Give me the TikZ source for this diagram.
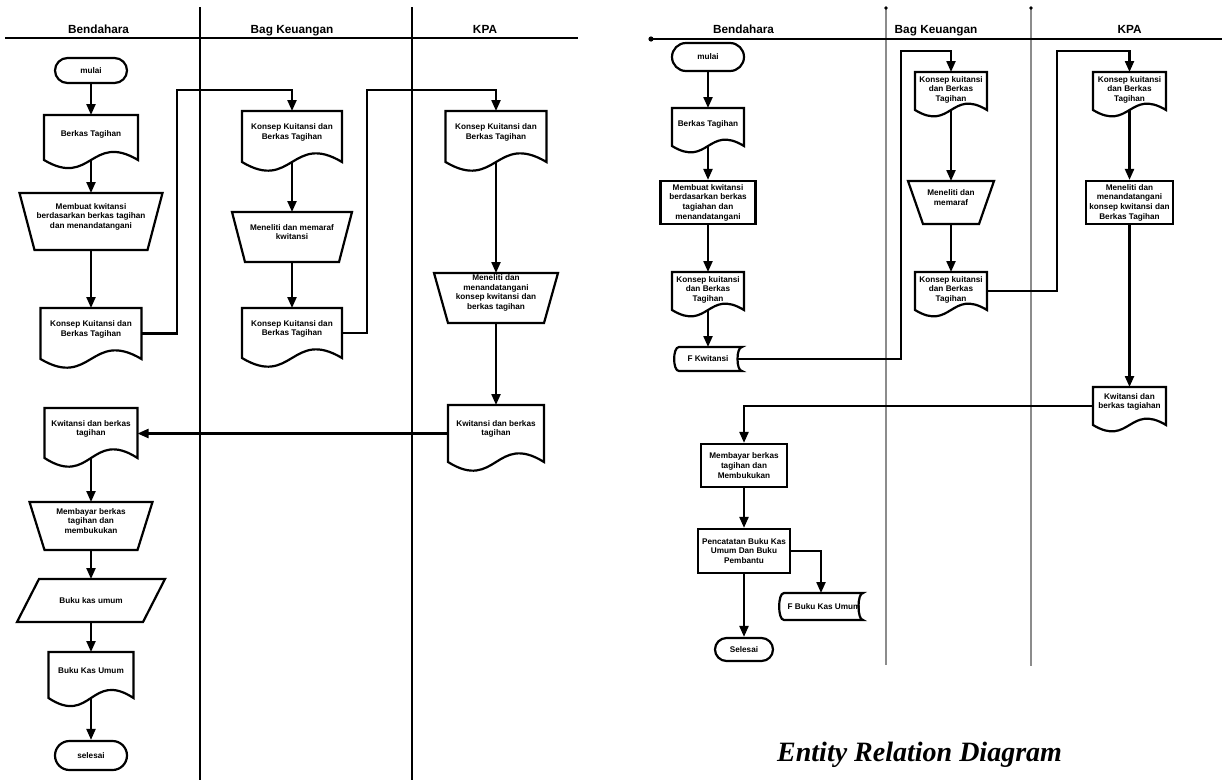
\documentclass[tikz,border=0pt]{standalone}
\usepackage{fontspec}
\setmainfont{Liberation Sans}
\newfontfamily\titlefont{Liberation Serif}
\usetikzlibrary{arrows.meta,calc,shapes.misc}
\definecolor{laneGray}{RGB}{140,140,140}
\tikzset{
  shp/.style={draw=black, line width=2.2pt, line join=miter},
  conn/.style={draw=black, line width=2.2pt},
  arr/.style={conn, -{Triangle[length=11pt,width=9pt]}},
  lbl/.style={font=\fontsize{8.2}{9.6}\selectfont\bfseries, align=center, inner sep=0pt},
  hdr/.style={font=\fontsize{11.8}{14}\selectfont\bfseries, inner sep=0pt, anchor=base},
  emptybox/.style={inner sep=0pt, outer sep=0pt},
  lane/.style={draw=black, line width=2.2pt},
  glane/.style={draw=laneGray, line width=1.4pt},
}
% name, cx, ytop, w, h, wave, text shift (up), text
\newcommand\docnode[8]{%
  \node[emptybox, minimum width=#4, minimum height=#5, anchor=north] (#1) at (#2,#3) {};
  \draw[shp] (#1.south west) -- (#1.north west) -- (#1.north east) -- (#1.south east)
    .. controls +(-0.5*#4,-#6) and +(0.5*#4,#6) .. (#1.south west) -- cycle;
  \node[lbl] (#1t) at ($(#1.center)+(0,-#7)$) {#8};
}
% name, cx, ytop, wtop, h, inset, text
\newcommand\trapnode[7]{%
  \node[emptybox, minimum width=#4, minimum height=#5, anchor=north] (#1) at (#2,#3) {};
  \draw[shp] (#1.north west) -- (#1.north east) -- ($(#1.south east)+(-#6,0)$)
    -- ($(#1.south west)+(#6,0)$) -- cycle;
  \node[lbl] (#1t) at ($(#1.center)+(0,-5)$) {#7};
}
% name, cx, ytop, w, h, slant, text
\newcommand\paranode[7]{%
  \node[emptybox, minimum width=#4, minimum height=#5, anchor=north] (#1) at (#2,#3) {};
  \draw[shp] ($(#1.north west)+(#6,0)$) -- (#1.north east) -- ($(#1.south east)+(-#6,0)$)
    -- (#1.south west) -- cycle;
  \node[lbl] (#1t) at (#1.center) {#7};
}
% name, cx, cy, w, h, text
\newcommand\termnode[6]{%
  \node[shp, lbl, rounded rectangle, minimum width=#4, minimum height=#5] (#1) at (#2,#3) {#6};
}
% name, cx, cy, w, h, text x-shift, text
\newcommand\stornode[7]{%
  \node[emptybox, minimum width=#4, minimum height=#5] (#1) at (#2,#3) {};
  \node[lbl] (#1t) at ($(#1.center)+(#6,0)$) {#7};
  \draw[shp] ($(#1.north west)+(5,0)$) -- (#1.north east)
    .. controls +(-6,0) and +(-6,0) .. (#1.south east)
    -- ($(#1.south west)+(5,0)$)
    .. controls +(-6.5,0) and +(-6.5,0) .. ($(#1.north west)+(5,0)$) -- cycle;
}
% name, cx, cy, w, h, text
\newcommand\procnode[6]{%
  \node[shp, lbl, minimum width=#4, minimum height=#5] (#1) at (#2,#3) {#6};
}
\begin{document}
\begin{tikzpicture}[x=1pt,y=-1pt]
\useasboundingbox (0,0) rectangle (1222,780);

% ---------------- left swimlanes ----------------
\draw[lane] (5,38) -- (578,38);
\draw[lane] (200,7) -- (200,780);
\draw[lane] (412,7) -- (412,780);
\node[hdr] (Lh1) at (98.5,33) {Bendahara};
\node[hdr] (Lh2) at (292,33) {Bag Keuangan};
\node[hdr] (Lh3) at (485,33) {KPA};

% Bendahara
\termnode{L_mulai}{91}{70.5}{72}{25}{mulai}
\docnode{L_berkas}{91}{115}{94}{45}{28}{3}{Berkas Tagihan}
\trapnode{L_buat}{91}{193}{143}{57}{15}{Membuat kwitansi\\berdasarkan berkas tagihan\\dan menandatangani}
\docnode{L_konsep}{91}{308}{101}{51}{30}{4}{Konsep Kuitansi dan\\Berkas Tagihan}
\docnode{L_kw}{91}{408}{93}{50}{30}{4}{Kwitansi dan berkas\\tagihan}
\trapnode{L_bayar}{91}{502}{123}{48}{15}{Membayar berkas\\tagihan dan\\membukukan}
\paranode{L_bkupara}{91}{579}{148}{43}{22}{Buku kas umum}
\docnode{L_bkudoc}{91}{652}{85}{46}{28}{4}{Buku Kas Umum}
\termnode{L_selesai}{91}{755.5}{72}{29}{selesai}

% Bag Keuangan
\docnode{L_bk1}{292}{111}{100}{51}{30}{4}{Konsep Kuitansi dan\\Berkas Tagihan}
\trapnode{L_bk2}{292}{212}{120}{50}{13}{Meneliti dan memaraf\\kwitansi}
\docnode{L_bk3}{292}{308}{100}{50}{30}{4}{Konsep Kuitansi dan\\Berkas Tagihan}

% KPA
\docnode{L_kpa1}{496}{111}{101}{51}{30}{4}{Konsep Kuitansi dan\\Berkas Tagihan}
\trapnode{L_kpa2}{496}{273}{124}{50}{14}{Meneliti dan\\menandatangani\\konsep kwitansi dan\\berkas tagihan}
\docnode{L_kpa3}{496}{405}{96}{57}{30}{4.5}{Kwitansi dan berkas\\tagihan}

% left connectors
\coordinate (Lc1) at (177,90);
\coordinate (Lc2) at (367,90);
\draw[arr] (L_mulai.south) -- (L_berkas.north);
\draw[arr] (L_berkas.south) -- (L_buat.north);
\draw[arr] (L_buat.south) -- (L_konsep.north);
\draw[arr] (L_konsep.east) -| (Lc1) -| (L_bk1.north);
\draw[arr] (L_bk1.south) -- (L_bk2.north);
\draw[arr] (L_bk2.south) -- (L_bk3.north);
\draw[arr] (L_bk3.east) -| (Lc2) -| (L_kpa1.north);
\draw[arr] (L_kpa1.south) -- (L_kpa2.north);
\draw[arr] (L_kpa2.south) -- (L_kpa3.north);
\draw[arr] (L_kpa3.west) -- (L_kpa3.west -| L_kw.east);
\draw[arr] (L_kw.south) -- (L_bayar.north);
\draw[arr] (L_bayar.south) -- (L_bkupara.north);
\draw[arr] (L_bkupara.south) -- (L_bkudoc.north);
\draw[arr] (L_bkudoc.south) -- (L_selesai.north);

% ---------------- right swimlanes ----------------
\draw[glane] (886,8) -- (886,665);
\draw[glane] (1031,8) -- (1031,666);
\fill (886,8) circle (1.8);
\fill (1031,8) circle (1.8);
\draw[lane] (651,39) -- (1222,39);
\fill (651,39) circle (2.6);
\node[hdr] (Rh1) at (743.5,33) {Bendahara};
\node[hdr] (Rh2) at (936,33) {Bag Keuangan};
\node[hdr] (Rh3) at (1129.5,33) {KPA};

% Bendahara
\termnode{R_mulai}{708}{57}{72}{28}{mulai}
\docnode{R_berkas}{708}{108}{72}{38}{22}{3}{Berkas Tagihan}
\procnode{R_buat}{708}{202.5}{95}{43}{Membuat kwitansi\\berdasarkan berkas\\tagiahan dan\\menandatangani}
\docnode{R_konsep}{708}{272}{72}{38}{22}{1.5}{Konsep kuitansi\\dan Berkas\\Tagihan}
\stornode{R_fkw}{708}{359}{68}{24}{0}{F Kwitansi}
\procnode{R_bayar}{744}{465.5}{86}{43}{Membayar berkas\\tagihan dan\\Membukukan}
\procnode{R_catat}{744}{551}{92}{44}{Pencatatan Buku Kas\\Umum Dan Buku\\Pembantu}
\stornode{R_fbku}{821}{606.5}{84}{27}{3}{F Buku Kas Umum}
\termnode{R_selesai}{744}{649.5}{58}{23}{Selesai}

% Bag Keuangan
\docnode{R_bk1}{951}{72}{72}{38}{22}{1.5}{Konsep kuitansi\\dan Berkas\\Tagihan}
\trapnode{R_bk2}{951}{181}{86}{43}{15}{Meneliti dan\\memaraf}
\docnode{R_bk3}{951}{272}{72}{38}{22}{1.5}{Konsep kuitansi\\dan Berkas\\Tagihan}

% KPA
\docnode{R_kpa1}{1129.5}{72}{73}{38}{22}{1.5}{Konsep kuitansi\\dan Berkas\\Tagihan}
\procnode{R_kpa2}{1129.5}{202.5}{87}{43}{Meneliti dan\\menandatangani\\konsep kwitansi dan\\Berkas Tagihan}
\docnode{R_kpa3}{1129.5}{387}{73}{38}{22}{4}{Kwitansi dan\\berkas tagiahan}

% right connectors
\coordinate (Rc1) at (901,51);
\coordinate (Rc2) at (1057,51);
\draw[arr] (R_mulai.south) -- (R_berkas.north);
\draw[arr] (R_berkas.south) -- (R_buat.north);
\draw[arr] (R_buat.south) -- (R_konsep.north);
\draw[arr] (R_konsep.south) -- (R_fkw.north);
\draw[arr] ($(R_fkw.east)+(-4.5,0)$) -| (Rc1) -| (R_bk1.north);
\draw[arr] (R_bk1.south) -- (R_bk2.north);
\draw[arr] (R_bk2.south) -- (R_bk3.north);
\draw[arr] (R_bk3.east) -| (Rc2) -| (R_kpa1.north);
\draw[arr] (R_kpa1.south) -- (R_kpa2.north);
\draw[arr] (R_kpa2.south) -- (R_kpa3.north);
\draw[arr] (R_kpa3.west) -| (R_bayar.north);
\draw[arr] (R_bayar.south) -- (R_catat.north);
\draw[arr] (R_catat.east) -| (R_fbku.north);
\draw[arr] (R_catat.south) -- (R_selesai.north);

% title
\node[anchor=base west, inner sep=0pt, font=\titlefont\fontsize{28}{30}\selectfont\bfseries\itshape] (title) at (777,761) {Entity Relation Diagram};
\end{tikzpicture}
\end{document}
